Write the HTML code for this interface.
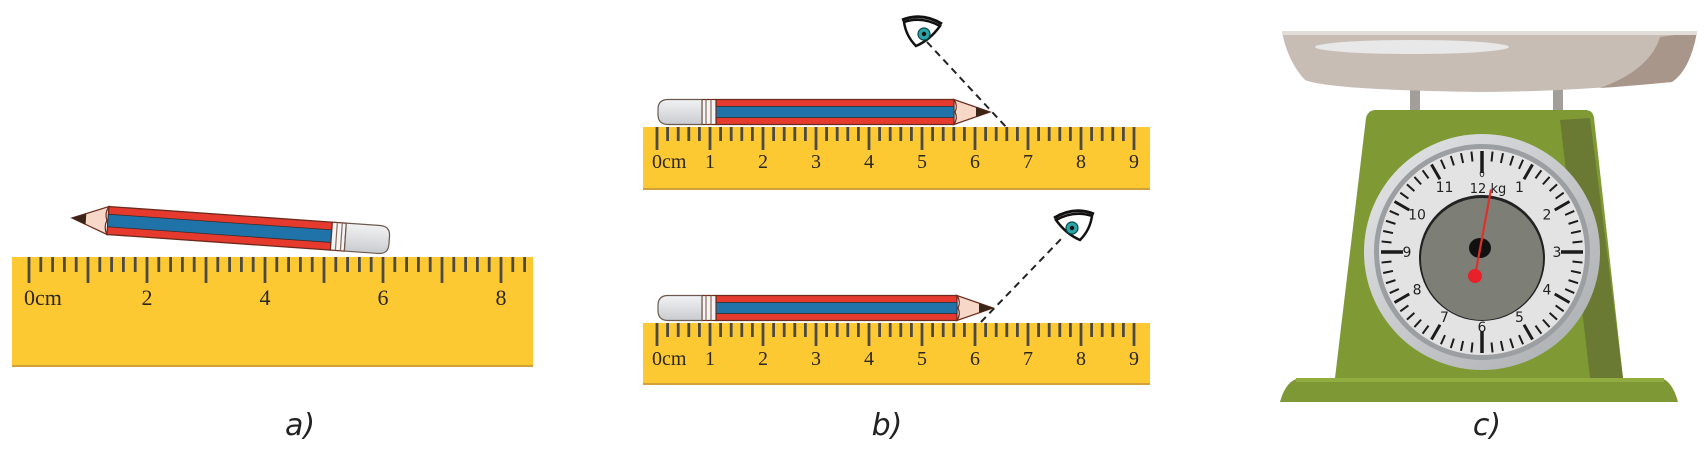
<!DOCTYPE html>
<html><head><meta charset="utf-8"><style>
html,body{margin:0;padding:0;background:#fff;}
svg{display:block;}
</style></head><body>
<svg id="scene" width="1706" height="450" viewBox="0 0 1706 450" xmlns="http://www.w3.org/2000/svg">
<defs>
<linearGradient id="rimG" x1="0" y1="0" x2="1" y2="1"><stop offset="0" stop-color="#e4e6e8"/><stop offset="1" stop-color="#a9acae"/></linearGradient>
<linearGradient id="eraserG" x1="0" y1="0" x2="0" y2="1"><stop offset="0" stop-color="#f1f2f3"/><stop offset="1" stop-color="#c9cccf"/></linearGradient>
</defs>
<g id="layer"></g>
<text x="300" y="435" font-family="'DejaVu Sans', sans-serif" font-style="italic" font-size="30" fill="#222" text-anchor="middle">a)</text>
<text x="887" y="435" font-family="'DejaVu Sans', sans-serif" font-style="italic" font-size="30" fill="#222" text-anchor="middle">b)</text>
<text x="1487" y="435" font-family="'DejaVu Sans', sans-serif" font-style="italic" font-size="30" fill="#222" text-anchor="middle">c)</text>
</svg>
<script>
const rulerALabels = ["0cm","","2","","4","","6","","8"];
const rulerBLabels = ["0cm","1","2","3","4","5","6","7","8","9"];
const dialLabels = ["","1","2","3","4","5","6","7","8","9","10","11"];
const dialMax = 12;
const needleValue = 0.35;

const NS="http://www.w3.org/2000/svg";
const layer=document.getElementById('layer');
function el(tag,attrs,parent){const e=document.createElementNS(NS,tag);for(const k in attrs)e.setAttribute(k,attrs[k]);(parent||layer).appendChild(e);return e;}

function ruler(name,x0,y0,w,h,zeroX,cm,labels,base,fs,longL,shortL,maxTicks){
  const g=el('g',{});
  
  
  const r=el('rect',{x:x0,y:y0,width:w,height:h,fill:'#fdc933'},g);
  
  
  el('rect',{x:x0,y:y0+h-2,width:w,height:2,fill:'#d2a23a'},g);
  const step=cm/5;
  for(let i=0;i<=maxTicks;i++){
    const x=zeroX+i*step;
    if(x>x0+w-4)break;
    const t=el('rect',{x:x-1.4,y:y0,width:2.8,height:(i%5===0?longL:shortL),fill:'#4d4a43'},g);
    
    
  }
  labels.forEach((lab,i)=>{
    if(!lab)return;
    const x=zeroX+i*cm;
    const tx=el('text',{x:(i===0?x-5:x),y:base,'font-family':"'Liberation Serif', serif",'font-size':fs,fill:'#2b2620','text-anchor':(i===0?'start':'middle')},g);
    tx.textContent=lab;
    
    
  });
}
ruler('ruler-a',12,257,521,110,29,59,rulerALabels,305,22,26,15,60);
ruler('ruler-b-top',643,127,507,63,657,53,rulerBLabels,168,20,23,14,45);
ruler('ruler-b-bottom',643,323,507,62,657,53,rulerBLabels,365,20,23,14,45);

function pencil(name,transform,L,h){
  const g=el('g',{transform:transform});
  
  
  const hh=h/2, cone=36;
  el('path',{d:`M${cone} ${-hh} L${L-58} ${-hh} L${L-58} ${hh} L${cone} ${hh} Z`,fill:'#e63a2e',stroke:'#6b2a1c','stroke-width':1.3},g);
  el('rect',{x:cone,y:-hh*0.45,width:L-58-cone,height:hh*0.9,fill:'#1f73a8',stroke:'#3a2a2a','stroke-width':0.8},g);
  el('path',{d:`M0 0 L${cone} ${-hh} Q${cone-4} ${-hh/2} ${cone-1} 0 Q${cone-4} ${hh/2} ${cone} ${hh} Z`,fill:'#f6d7c8',stroke:'#6b2a1c','stroke-width':1.2},g);
  el('path',{d:`M0 0 L14 ${-hh*0.4} L14 ${hh*0.4} Z`,fill:'#3b2418'},g);
  el('rect',{x:L-58,y:-hh,width:14,height:h,fill:'#f4f4f4',stroke:'#6b2a1c','stroke-width':1.2},g);
  el('line',{x1:L-53,y1:-hh,x2:L-53,y2:hh,stroke:'#8a6a5a','stroke-width':1.2},g);
  el('line',{x1:L-48,y1:-hh,x2:L-48,y2:hh,stroke:'#8a6a5a','stroke-width':1.2},g);
  el('path',{d:`M${L-44} ${-hh} L${L-10} ${-hh} Q${L} ${-hh} ${L} ${-hh+10} L${L} ${hh-10} Q${L} ${hh} ${L-10} ${hh} L${L-44} ${hh} Z`,fill:'url(#eraserG)',stroke:'#6b5a50','stroke-width':1.2},g);
}
pencil('pencil-a','translate(72,218) rotate(4)',318,28);
pencil('pencil-b-top','translate(990,112) scale(-1,1)',332,25);
pencil('pencil-b-bottom','translate(993,308) scale(-1,1)',335,25);

function eye(name,cx,cy,flip){
  const g=el('g',{transform:`translate(${cx},${cy}) scale(${flip},1)`});
  
  
  el('path',{d:'M-18 -10 Q0 -16 18 -6 Q8 8 -6 14 Q-16 4 -18 -10 Z',fill:'#fff',stroke:'#111','stroke-width':2.5},g);
  el('path',{d:'M-20 -12 Q0 -20 20 -8',fill:'none',stroke:'#111','stroke-width':3},g);
  el('circle',{cx:2,cy:2,r:6,fill:'#2aa6a8',stroke:'#0c4a4c','stroke-width':1.2},g);
  el('circle',{cx:2,cy:2,r:2.2,fill:'#111'},g);
}
eye('eye-top',922,32,1);
eye('eye-bottom',1074,226,-1);
let d1=el('line',{x1:927,y1:42,x2:1007,y2:128,stroke:'#222','stroke-width':2,'stroke-dasharray':'7 5'});


let d2=el('line',{x1:981,y1:322,x2:1062,y2:238,stroke:'#222','stroke-width':2,'stroke-dasharray':'7 5'});



// scale
const sc=el('g',{});


el('rect',{x:1410,y:85,width:10,height:28,fill:'#a29f9b'},sc);
el('rect',{x:1553,y:85,width:10,height:28,fill:'#a29f9b'},sc);
const pan=el('path',{d:'M1282 32 L1697 32 Q1690 70 1672 82 Q1560 92 1480 92 Q1330 90 1305 80 Q1288 62 1282 32 Z',fill:'#c7bdb5'},sc);


el('path',{d:'M1660 37 L1697 32 Q1690 70 1672 82 Q1630 86 1600 88 Q1650 70 1660 37 Z',fill:'#a8968b'},sc);
el('rect',{x:1282,y:31,width:415,height:4,fill:'#e2ddd8'},sc);
el('ellipse',{cx:1412,cy:47,rx:97,ry:7,fill:'#e8e8e8'},sc);
const body=el('path',{d:'M1376 110 L1585 110 Q1593 110 1594 118 L1623 378 L1335 378 L1366 118 Q1368 110 1376 110 Z',fill:'#7f9a34'},sc);


el('path',{d:'M1560 120 L1590 118 L1623 378 L1590 378 Z',fill:'#6a7a33'},sc);
const baseP=el('path',{d:'M1300 378 L1660 378 Q1672 380 1678 402 L1280 402 Q1286 380 1300 378 Z',fill:'#7e9836'},sc);


el('rect',{x:1296,y:378,width:368,height:4,fill:'#92ad3f'},sc);
const cx=1482, cy=252;
el('circle',{cx:cx,cy:cy,r:118,fill:'url(#rimG)'},sc);
el('circle',{cx:cx,cy:cy,r:108,fill:'#9c9fa1'},sc);
const face=el('circle',{cx:cx,cy:cy,r:103,fill:'#e3e3e3'},sc);


for(let i=0;i<60;i++){
  const a=i/60*2*Math.PI;
  const major=i%5===0, big=i%15===0;
  const len=big?22:(major?17:10);
  const w=big?3.5:(major?3:2);
  const r1=101, r2=r1-len;
  const t=el('line',{x1:cx+r1*Math.sin(a),y1:cy-r1*Math.cos(a),x2:cx+r2*Math.sin(a),y2:cy-r2*Math.cos(a),stroke:'#1b1b1b','stroke-width':w},sc);
  
  
}
dialLabels.forEach((lab,i)=>{
  if(!lab)return;
  const a=i/dialMax*2*Math.PI, r=75;
  const t=el('text',{x:cx+r*Math.sin(a),y:cy-r*Math.cos(a)+5,'font-family':"'DejaVu Sans', sans-serif",'font-size':14,fill:'#222','text-anchor':'middle'},sc);
  t.textContent=lab;
  
  
});
let t12=el('text',{x:cx+6,y:193,'font-family':"'DejaVu Sans', sans-serif",'font-size':13,fill:'#222','text-anchor':'middle'},sc);
t12.textContent='12 kg';


let t0=el('text',{x:cx,y:177,'font-family':"'DejaVu Sans', sans-serif",'font-size':9,fill:'#222','text-anchor':'middle'},sc);
t0.textContent='0';


el('circle',{cx:cx,cy:258,r:63,fill:'#222'},sc);
el('circle',{cx:cx,cy:259,r:61,fill:'#7d7f77'},sc);
el('ellipse',{cx:cx-2,cy:248,rx:11,ry:10,fill:'#111'},sc);
const na=needleValue/dialMax*2*Math.PI, pivotX=1475, pivotY=276, nl=88;
const nd=el('line',{x1:pivotX,y1:pivotY,x2:pivotX+nl*Math.sin(na),y2:pivotY-nl*Math.cos(na),stroke:'#e0302a','stroke-width':2.2},sc);


el('circle',{cx:pivotX,cy:pivotY,r:7,fill:'#e8202a'},sc);
</script>
</body></html>
